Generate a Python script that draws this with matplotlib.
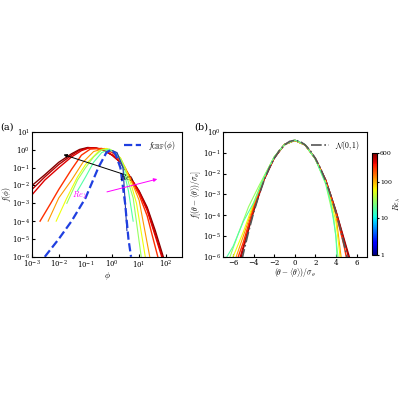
import numpy as np
import matplotlib
import matplotlib.pyplot as plt
from matplotlib.colors import LogNorm
from matplotlib.cm import ScalarMappable

plt.rcParams['font.family'] = ['DejaVu Serif']
plt.rcParams['mathtext.fontset'] = 'cm'

# Panel (a): Re_lambda per curve and (phi, f) control points
re_a = [600, 450, 350, 240, 120, 60, 30, 18, 3]
phi_a = [
    [1e-3, 3e-3, 1e-2, 0.03, 0.06, 0.12, 0.25, 0.5, 1, 2, 3, 5, 10, 20, 40, 80],
    [1e-3, 3e-3, 1e-2, 0.03, 0.06, 0.13, 0.25, 0.5, 1, 2, 3, 5, 10, 20, 40, 75],
    [1e-3, 3e-3, 1e-2, 0.03, 0.07, 0.14, 0.3, 0.5, 1, 2, 3, 5, 10, 20, 40, 70],
    [2e-3, 5e-3, 1e-2, 0.03, 0.07, 0.15, 0.4, 1, 2, 3, 5, 10, 20, 50],
    [4e-3, 1e-2, 0.03, 0.08, 0.2, 0.5, 1, 2, 3, 5, 10, 25],
    [8e-3, 2e-2, 0.05, 0.1, 0.3, 0.6, 1.2, 2, 3, 5, 8, 17],
    [2e-2, 0.05, 0.1, 0.2, 0.4, 0.8, 1.5, 2.2, 3, 4, 6, 12],
    [0.05, 0.1, 0.2, 0.4, 0.7, 1.2, 1.8, 2.5, 4, 6],
    [1.0, 1.5, 2.5, 3.5],
]
f_a = [
    [1e-2, 4e-2, 0.2, 0.6, 1.05, 1.35, 1.25, 0.9, 0.5, 0.2, 0.08, 0.025, 5e-3, 6e-4, 3e-5, 1e-6],
    [6e-3, 3e-2, 0.15, 0.5, 0.95, 1.3, 1.25, 0.9, 0.5, 0.2, 0.08, 0.025, 4.5e-3, 5e-4, 2e-5, 1e-6],
    [3e-3, 2e-2, 0.1, 0.4, 0.9, 1.3, 1.2, 0.95, 0.5, 0.2, 0.08, 0.025, 4e-3, 4e-4, 1.5e-5, 1e-6],
    [1e-4, 1e-3, 6e-3, 0.08, 0.5, 1.1, 1.2, 0.7, 0.25, 0.1, 0.02, 3e-3, 2e-4, 1e-6],
    [1e-4, 2e-3, 0.02, 0.2, 0.8, 1.2, 0.9, 0.35, 0.1, 0.02, 1.5e-3, 1e-6],
    [1e-4, 2e-3, 0.03, 0.15, 0.8, 1.2, 0.8, 0.35, 0.1, 0.012, 1e-3, 1e-6],
    [1e-3, 2e-2, 0.1, 0.4, 1.0, 1.1, 0.6, 0.25, 0.08, 0.015, 2e-3, 1e-6],
    [5e-3, 3e-2, 0.2, 0.7, 1.0, 0.8, 0.35, 0.1, 5e-3, 1e-4],
    [0.9, 0.7, 0.1, 3e-5],
]
phi_grf = [3e-3, 1e-2, 0.03, 0.1, 0.3, 0.6, 0.9, 1.3, 2, 3, 4, 5]
f_grf = [1e-6, 1e-5, 1e-4, 2e-3, 0.1, 0.7, 1.0, 0.6, 0.1, 1e-3, 1e-5, 1e-6]

# Panel (b): standardized PDFs, (x, log10 f)
re_b = [600, 400, 240, 120, 60, 30, 18]
x_b = [
    [-5.2, -5, -4, -3, -2, -1, 0, 1, 2, 3, 4, 5, 5.3],
    [-5.3, -5, -4, -3, -2, -1, 0, 1, 2, 3, 4, 5, 5.2],
    [-5.5, -5, -4, -3, -2, -1, 0, 1, 2, 3, 4, 4.8, 5.0],
    [-5.7, -5, -4, -3, -2, -1, 0, 1, 2, 3, 4, 4.5],
    [-6.0, -5, -4, -3, -2, -1, 0, 1, 2, 3, 4, 4.4],
    [-6.3, -5.5, -4.5, -3.5, -2, -1, 0, 1, 2, 3, 3.8, 4.2],
    [-6.6, -6, -5.5, -5, -4, -3, -2, -1, 0, 1, 2, 3, 3.5, 4.0, 4.1],
]
lf_b = [
    [-6, -5.6, -3.8, -2.3, -1.25, -0.6, -0.4, -0.62, -1.28, -2.3, -3.8, -5.5, -6],
    [-6, -5.5, -3.75, -2.3, -1.25, -0.6, -0.4, -0.62, -1.28, -2.3, -3.8, -5.6, -6],
    [-6, -5.3, -3.6, -2.25, -1.23, -0.6, -0.4, -0.62, -1.28, -2.35, -3.9, -5.5, -6],
    [-6, -5.0, -3.5, -2.2, -1.2, -0.6, -0.4, -0.62, -1.3, -2.4, -4.0, -6],
    [-6, -4.8, -3.4, -2.15, -1.2, -0.6, -0.4, -0.62, -1.3, -2.4, -4.3, -6],
    [-6, -4.9, -3.6, -2.6, -1.2, -0.6, -0.4, -0.62, -1.3, -2.5, -4.2, -6],
    [-6, -5.5, -4.9, -4.3, -3.4, -2.2, -1.2, -0.6, -0.38, -0.6, -1.3, -2.45, -3.4, -5.0, -6],
]
x_gauss = [-5.5, -5, -4.5, -4, -3.5, -3, -2.5, -2, -1.5, -1, -0.5, 0,
           0.5, 1, 1.5, 2, 2.5, 3, 3.5, 4, 4.5, 5, 5.5]
lf_gauss = [-6.96, -5.83, -4.8, -3.87, -3.06, -2.35, -1.75, -1.27, -0.89, -0.62, -0.45, -0.4,
            -0.45, -0.62, -0.89, -1.27, -1.75, -2.35, -3.06, -3.87, -4.8, -5.83, -6.96]

norm = LogNorm(1, 600)
cmap = plt.get_cmap('jet')

fig = plt.figure(figsize=(4, 4), dpi=100)
ax1 = fig.add_axes([0.08, 0.358, 0.375, 0.312])
ax2 = fig.add_axes([0.557, 0.358, 0.36, 0.312])
cax = fig.add_axes([0.93, 0.362, 0.013, 0.255])

for r, p, f in zip(re_a, phi_a, f_a):
    lw = 1.0 if r > 200 else 0.8
    ax1.plot(p, f, color=cmap(norm(r)) if r > 3 else '#2233aa', lw=lw)
ax1.plot(phi_grf, f_grf, '--', color='#1f3fe0', lw=1.6, label=r'$f_{\rm GRF}(\phi)$')
ax1.set_xscale('log'); ax1.set_yscale('log')
ax1.set_xlim(1e-3, 4e2); ax1.set_ylim(1e-6, 1e1)
ax1.set_xticks([1e-3, 1e-2, 1e-1, 1e0, 1e1, 1e2])
ax1.set_yticks([10.0**k for k in range(-6, 2)])
ax1.minorticks_off()
ax1.tick_params(labelsize=5, direction='in', pad=1.5, length=2)
ax1.set_xlabel(r'$\phi$', fontsize=6, labelpad=0)
ax1.set_ylabel(r'$f(\phi)$', fontsize=5.5, labelpad=-1)
ax1.legend(loc='upper right', fontsize=5.5, frameon=False, handlelength=2.3)
ax1.annotate('', xy=(0.012, 0.6), xytext=(3, 0.04),
             arrowprops=dict(arrowstyle='-|>', color='k', lw=0.7, mutation_scale=5))
ax1.text(1.8, 0.018, r'$Re_\lambda$', fontsize=6)
ax1.annotate('', xy=(60, 2.5e-2), xytext=(0.5, 4e-3),
             arrowprops=dict(arrowstyle='-|>', color='magenta', lw=0.7, mutation_scale=5))
ax1.text(0.03, 2e-3, r'$Re_\lambda$', fontsize=6, color='magenta')
fig.text(0.0, 0.675, '(a)', fontsize=7)

for r, x, l in zip(re_b, x_b, lf_b):
    ax2.plot(x, 10.0**np.array(l), color=cmap(norm(r)), lw=1.0 if r > 200 else 0.8)
ax2.plot(x_gauss, 10.0**np.array(lf_gauss), '-.', color='#555555', lw=1.2,
         label=r'$\mathcal{N}(0,1)$')
ax2.set_yscale('log')
ax2.set_xlim(-7, 7); ax2.set_ylim(1e-6, 1)
ax2.set_xticks([-6, -4, -2, 0, 2, 4, 6])
ax2.set_yticks([10.0**k for k in range(-6, 1)])
ax2.minorticks_off()
ax2.tick_params(labelsize=5, direction='in', pad=1.5, length=2)
ax2.set_xlabel(r'$(\theta-\langle\theta\rangle)/\sigma_\theta$', fontsize=5.5, labelpad=0)
ax2.set_ylabel(r'$f[(\theta-\langle\theta\rangle)/\sigma_\theta]$', fontsize=5.5, labelpad=0)
ax2.legend(loc='upper right', fontsize=5.5, frameon=False, handlelength=2.3)
fig.text(0.485, 0.675, '(b)', fontsize=7)

cb = fig.colorbar(ScalarMappable(norm=norm, cmap=cmap), cax=cax)
cb.set_ticks([1, 10, 100, 600]); cb.set_ticklabels(['1', '10', '100', '600'])
cb.minorticks_off()
cb.ax.tick_params(labelsize=4.5, length=1.5, pad=0.5)
cb.set_label(r'$Re_\lambda$', fontsize=5.5, labelpad=0)

fig.savefig('out.png', dpi=100)
